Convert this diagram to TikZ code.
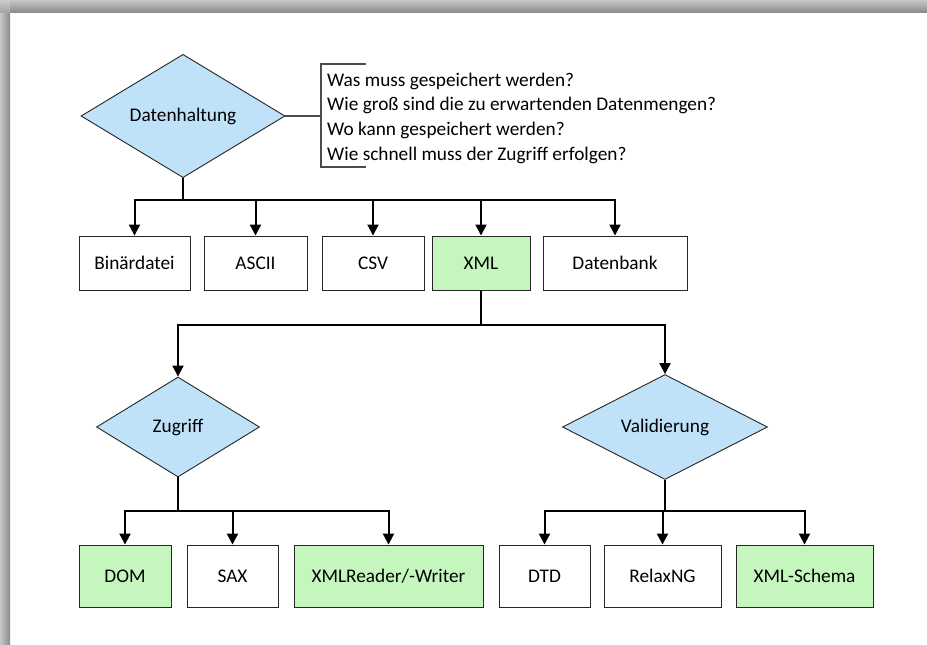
\documentclass[tikz,border=0pt]{standalone}
\usepackage{fontspec}
\setmainfont{Carlito}
\usetikzlibrary{shapes.geometric,arrows.meta}
\newcommand\diagfont{\fontsize{19.3}{24.8}\selectfont}
\definecolor{decisionblue}{HTML}{BFE2F8}
\definecolor{choicegreen}{HTML}{C4F6BE}
\tikzset{
  every node/.style={font=\diagfont, text=black},
  decision/.style={diamond, draw=black!85, line width=0.9pt, fill=decisionblue,
    inner sep=0pt, minimum width=#1, minimum height=100pt},
  option/.style={rectangle, draw=black!85, line width=0.9pt, fill=white,
    inner sep=0pt, minimum width=#1},
  row1/.style={minimum height=54pt},
  row2/.style={minimum height=62pt},
  chosen/.style={fill=choicegreen},
  bus/.style={line width=2pt, black},
  feed/.style={line width=2pt, black, -{Triangle[width=11pt,length=11pt]}},
  note/.style={line width=1.1pt, black!70},
}
\begin{document}
\begin{tikzpicture}[x=1pt,y=-1pt]
  % page with soft shadow along the top and left edges
  \useasboundingbox (0,0) rectangle (927,645);
  \fill[white] (0,0) rectangle (927,645);
  \shade[top color=black!22, bottom color=black!45] (10,0) rectangle (927,12);
  \shade[left color=black!22, right color=black!45] (0,12) rectangle (10,645);
  \shade[top color=black!20, bottom color=black!35] (0,0) rectangle (10,12);

  % top decision and its notes
  \node[decision=204pt, minimum height=102pt] (dh) at (183,116) {Datenhaltung};
  \coordinate (nb) at (321,116);
  \coordinate (nt) at (321,64);
  \coordinate (nbot) at (321,167);
  \draw[note] (366,64) -- (nt) -- (nbot) -- (366,167);
  \draw[note] (dh.east) -- (nb);
  \node[anchor=north west, inner sep=0pt, align=left] (qs) at (327,72.5)
    {Was muss gespeichert werden?\\
     Wie groß sind die zu erwartenden Datenmengen?\\
     Wo kann gespeichert werden?\\
     Wie schnell muss der Zugriff erfolgen?};

  % storage formats
  \node[option=111pt, row1] (bin) at (134.5,263) {Binärdatei};
  \node[option=103pt, row1] (asc) at (255.5,263) {ASCII};
  \node[option=102pt, row1] (csv) at (373,263) {CSV};
  \node[option=98pt, row1, chosen] (xml) at (481,263) {XML};
  \node[option=144pt, row1] (db) at (615,263) {Datenbank};

  \coordinate (j1) at (183,200);
  \draw[bus] (dh.south) -- (j1);
  \foreach \t in {bin,asc,csv,xml,db}
    \draw[feed] (j1) -| (\t.north);

  % XML aspects
  \node[decision=163pt] (zg) at (178,427) {Zugriff};
  \node[decision=205pt] (val) at (665,427) {Validierung};
  \coordinate (j2) at (481,325);
  \draw[bus] (xml.south) -- (j2);
  \draw[feed] (j2) -| (zg.north);
  \draw[feed] (j2) -| (val.north);

  % access methods
  \node[option=92pt, row2, chosen] (dom) at (125,576) {DOM};
  \node[option=91pt, row2] (sax) at (232.5,576) {SAX};
  \node[option=189pt, row2, chosen] (rw) at (388.5,576) {XMLReader/-Writer};
  \coordinate (j3) at (178,511);
  \draw[bus] (zg.south) -- (j3);
  \foreach \t in {dom,sax,rw}
    \draw[feed] (j3) -| (\t.north);

  % validation languages
  \node[option=91pt, row2] (dtd) at (544.5,576) {DTD};
  \node[option=117pt, row2] (rng) at (662.5,576) {RelaxNG};
  \node[option=137pt, row2, chosen] (xsd) at (804.5,576) {XML-Schema};
  \coordinate (j4) at (665,511);
  \draw[bus] (val.south) -- (j4);
  \foreach \t in {dtd,rng,xsd}
    \draw[feed] (j4) -| (\t.north);
\end{tikzpicture}
\end{document}
